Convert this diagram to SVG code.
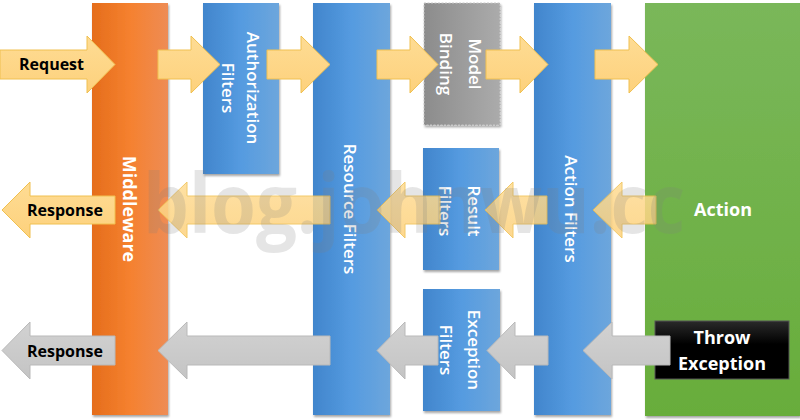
<svg xmlns="http://www.w3.org/2000/svg" width="800" height="420" viewBox="0 0 800 420">
<defs>
<linearGradient id="gBlue" x1="0" y1="0" x2="1" y2="0">
<stop offset="0" stop-color="#4185cc"/>
<stop offset="0.5" stop-color="#559be0"/>
<stop offset="1" stop-color="#6da6dc"/>
</linearGradient>
<linearGradient id="gOrange" x1="0" y1="0" x2="1" y2="0">
<stop offset="0" stop-color="#e56d1b"/>
<stop offset="0.5" stop-color="#f5812f"/>
<stop offset="1" stop-color="#ee8c55"/>
</linearGradient>
<linearGradient id="gGreen" x1="0" y1="0" x2="0" y2="1">
<stop offset="0" stop-color="#7ab75a"/>
<stop offset="1" stop-color="#68ad3b"/>
</linearGradient>
<linearGradient id="gGrey" x1="0" y1="0" x2="1" y2="0">
<stop offset="0" stop-color="#8c8c8c"/>
<stop offset="1" stop-color="#ababab"/>
</linearGradient>
<linearGradient id="gYellow" x1="0" y1="0" x2="0" y2="1">
<stop offset="0" stop-color="#fedc94"/>
<stop offset="1" stop-color="#fdd17c"/>
</linearGradient>
<linearGradient id="gSilver" x1="0" y1="0" x2="0" y2="1">
<stop offset="0" stop-color="#d2d2d2"/>
<stop offset="1" stop-color="#c4c4c4"/>
</linearGradient>
<linearGradient id="gBlack" x1="0" y1="0" x2="0" y2="1">
<stop offset="0" stop-color="#2a2a2a"/>
<stop offset="0.4" stop-color="#000000"/>
<stop offset="1" stop-color="#000000"/>
</linearGradient>
<filter id="sh" x="-10%" y="-10%" width="130%" height="130%">
<feDropShadow dx="1" dy="2" stdDeviation="1.2" flood-color="#000" flood-opacity="0.35"/>
</filter>
</defs>
<style>
.box{filter:url(#sh)}
.lbl{font-family:"Open Sans","Liberation Sans",sans-serif;fill:#ffffff;font-weight:600;font-size:17px}
.lblb{font-family:"Open Sans","Liberation Sans",sans-serif;fill:#ffffff;font-weight:700;font-size:18px}
.alab{font-family:"Open Sans","Liberation Sans",sans-serif;fill:#000000;font-weight:700;font-size:16px}
.ya{fill:url(#gYellow);stroke:#f0c050;stroke-width:1}
.ym{fill:url(#gYellow);stroke:#f0c050;stroke-width:1;opacity:0.85}
.ga{fill:url(#gSilver);stroke:#b9b9b9;stroke-width:1}
.wm{font-family:"Open Sans","Liberation Sans",sans-serif;font-weight:700;font-size:82px;fill:#808080;opacity:0.2}
</style>
<rect width="800" height="420" fill="#ffffff"/>

<g id="middleware">
<rect class="box" x="92" y="3" width="76" height="412" fill="url(#gOrange)"/>
<text class="lblb" transform="translate(130,209) rotate(90)" text-anchor="middle" dominant-baseline="central">Middleware</text>
</g>
<g id="authorization-filters">
<rect class="box" x="203" y="3" width="76" height="171" fill="url(#gBlue)"/>
<text class="lbl" transform="translate(253,88) rotate(90)" text-anchor="middle" dominant-baseline="central">Authorization</text>
<text class="lbl" transform="translate(228,88) rotate(90)" text-anchor="middle" dominant-baseline="central">Filters</text>
</g>
<g id="resource-filters">
<rect class="box" x="313" y="3" width="77" height="412" fill="url(#gBlue)"/>
<text class="lbl" transform="translate(350,209) rotate(90)" text-anchor="middle" dominant-baseline="central">Resource Filters</text>
</g>
<g id="model-binding">
<rect class="box" x="424" y="3" width="76" height="122" fill="url(#gGrey)" stroke="#c8c8c8" stroke-width="1" stroke-dasharray="2,1.5"/>
<text class="lbl" transform="translate(475,64) rotate(90)" text-anchor="middle" dominant-baseline="central" fill="#f2f2f2">Model</text>
<text class="lbl" transform="translate(446,64) rotate(90)" text-anchor="middle" dominant-baseline="central" fill="#f2f2f2">Binding</text>
</g>
<g id="action-filters">
<rect class="box" x="534" y="3" width="77" height="412" fill="url(#gBlue)"/>
<text class="lbl" transform="translate(571,209) rotate(90)" text-anchor="middle" dominant-baseline="central">Action Filters</text>
</g>
<g id="result-filters">
<rect class="box" x="423" y="148" width="76" height="122" fill="url(#gBlue)"/>
<text class="lbl" transform="translate(474,211) rotate(90)" text-anchor="middle" dominant-baseline="central">Result</text>
<text class="lbl" transform="translate(445,211) rotate(90)" text-anchor="middle" dominant-baseline="central">Filters</text>
</g>
<g id="exception-filters">
<rect class="box" x="423" y="289" width="77" height="122" fill="url(#gBlue)"/>
<text class="lbl" transform="translate(474,350) rotate(90)" text-anchor="middle" dominant-baseline="central">Exception</text>
<text class="lbl" transform="translate(446,350) rotate(90)" text-anchor="middle" dominant-baseline="central">Filters</text>
</g>
<g id="action">
<rect class="box" x="645" y="3" width="155" height="413" fill="url(#gGreen)"/>
<text class="lblb" x="723" y="216" text-anchor="middle" font-size="19">Action</text>
</g>
<g id="throw-exception">
<rect x="655" y="321" width="134" height="58" fill="url(#gBlack)" stroke="#555" stroke-width="1"/>
<text class="lblb" x="722" y="344" text-anchor="middle" font-size="19">Throw</text>
<text class="lblb" x="722" y="370" text-anchor="middle" font-size="19">Exception</text>
</g>

<g id="connectors">
<path class="ya" d="M0,50 H87 V36 L115,64.5 L87,93 V79 H0 Z"/>
<path class="ya" d="M158,50 H191 V36 L220,64.5 L191,93 V79 H158 Z"/>
<path class="ya" d="M267,50 H301 V36 L330,64.5 L301,93 V79 H267 Z"/>
<path class="ya" d="M377,50 H410 V36 L438,64.5 L410,93 V79 H377 Z"/>
<path class="ya" d="M486,50 H520 V36 L548,64.5 L520,93 V79 H486 Z"/>
<path class="ya" d="M595,50 H629 V36 L658,64.5 L629,93 V79 H595 Z"/>
<path class="ya" d="M115,196 H30 V182 L2,210 L30,238 V224 H115 Z"/>
<path class="ym" d="M330,196 H187 V182 L158,210 L187,238 V224 H330 Z"/>
<path class="ym" d="M440,196 H405 V182 L377,210 L405,238 V224 H440 Z"/>
<path class="ym" d="M547,196 H513 V182 L485,210 L513,238 V224 H547 Z"/>
<path class="ym" d="M656,196 H622 V182 L593,210 L622,238 V224 H656 Z"/>
<path class="ga" d="M115,336 H30 V322 L2,350.5 L30,379 V365 H115 Z"/>
<path class="ga" d="M330,336 H187 V322 L158,350.5 L187,379 V365 H330 Z"/>
<path class="ga" d="M438,336 H405 V322 L377,350.5 L405,379 V365 H438 Z"/>
<path class="ga" d="M548,336 H515 V322 L487,350.5 L515,379 V365 H548 Z"/>
<path class="ga" d="M670,336 H612 V322 L583,350.5 L612,379 V365 H670 Z"/>
<text class="alab" x="19" y="70">Request</text>
<text class="alab" x="27" y="216">Response</text>
<text class="alab" x="27" y="357">Response</text>
</g>

<text class="wm" x="143" y="233" textLength="542" lengthAdjust="spacingAndGlyphs">blog.johnwu.cc</text>
</svg>
